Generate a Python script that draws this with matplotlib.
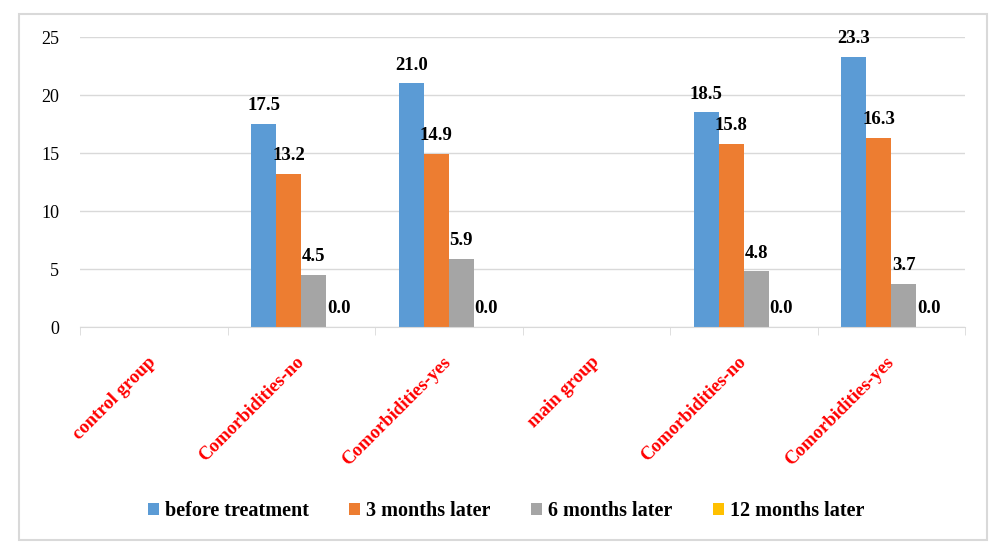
import numpy as np
import matplotlib.pyplot as plt
import matplotlib.transforms as mtransforms
from matplotlib.patches import Rectangle

plt.rcParams['font.family'] = ['Liberation Serif', 'DejaVu Serif']

categories = ['control group', 'Comorbidities-no', 'Comorbidities-yes',
              'main group', 'Comorbidities-no', 'Comorbidities-yes']
series_names = ['before treatment', '3 months later', '6 months later', '12 months later']
before = [np.nan, 17.5, 21.0, np.nan, 18.5, 23.3]
m3 = [np.nan, 13.2, 14.9, np.nan, 15.8, 16.3]
m6 = [np.nan, 4.5, 5.9, np.nan, 4.8, 3.7]
m12 = [np.nan, 0.0, 0.0, np.nan, 0.0, 0.0]
colors = ['#5B9BD5', '#ED7D31', '#A5A5A5', '#FFC000']

fig = plt.figure(figsize=(10.05, 5.57), dpi=100)
ax = fig.add_axes([80/1005, 1-327/557, 885/1005, 290/557])

x = np.arange(len(categories))
w = 0.17
for i, (vals, name, c) in enumerate(zip([before, m3, m6, m12], series_names, colors)):
    pos = x + (i - 1.5) * w
    ax.bar(pos, vals, w, color=c, label=name)
    for px, v in zip(pos, vals):
        if not np.isnan(v):
            ax.annotate(f'{v:.1f}', (px, v), xytext=(0, 7), textcoords='offset points',
                        ha='center', va='bottom', fontsize=13.5, fontweight='bold')

ax.set_xlim(-0.5, len(categories) - 0.5)
ax.set_ylim(0, 25)
ax.set_yticks([0, 5, 10, 15, 20, 25])
ax.tick_params(axis='y', length=0, labelsize=13, pad=15)
ax.grid(axis='y', color='#d9d9d9', linewidth=1)
ax.set_axisbelow(True)
for s in ['left', 'right', 'top']:
    ax.spines[s].set_visible(False)
ax.spines['bottom'].set_color('#d9d9d9')

ax.set_xticks(x)
ax.set_xticklabels(categories, rotation=45, ha='right', va='top', color='red',
                   fontsize=13.5, fontweight='bold')
ax.tick_params(axis='x', which='major', length=0, pad=19)
shift = mtransforms.ScaledTranslation(6/100, 0, fig.dpi_scale_trans)
for lbl in ax.get_xticklabels():
    lbl.set_transform(lbl.get_transform() + shift)
ax.set_xticks(np.arange(-0.5, len(categories)), minor=True)
ax.tick_params(axis='x', which='minor', length=6, color='#d9d9d9', direction='out')

ax.legend(loc='center', bbox_to_anchor=(506/1005, 1-511/557), bbox_transform=fig.transFigure,
          ncol=4, frameon=False, prop={'weight': 'bold', 'size': 14.5},
          handlelength=0.55, handleheight=0.55, handletextpad=0.3, columnspacing=2.0)

fig.patches.append(Rectangle((19/1005, 1-540/557), 968/1005, 526/557, transform=fig.transFigure,
                             fill=False, edgecolor='#d9d9d9', linewidth=1.5))

fig.savefig('out.png', dpi=100)
